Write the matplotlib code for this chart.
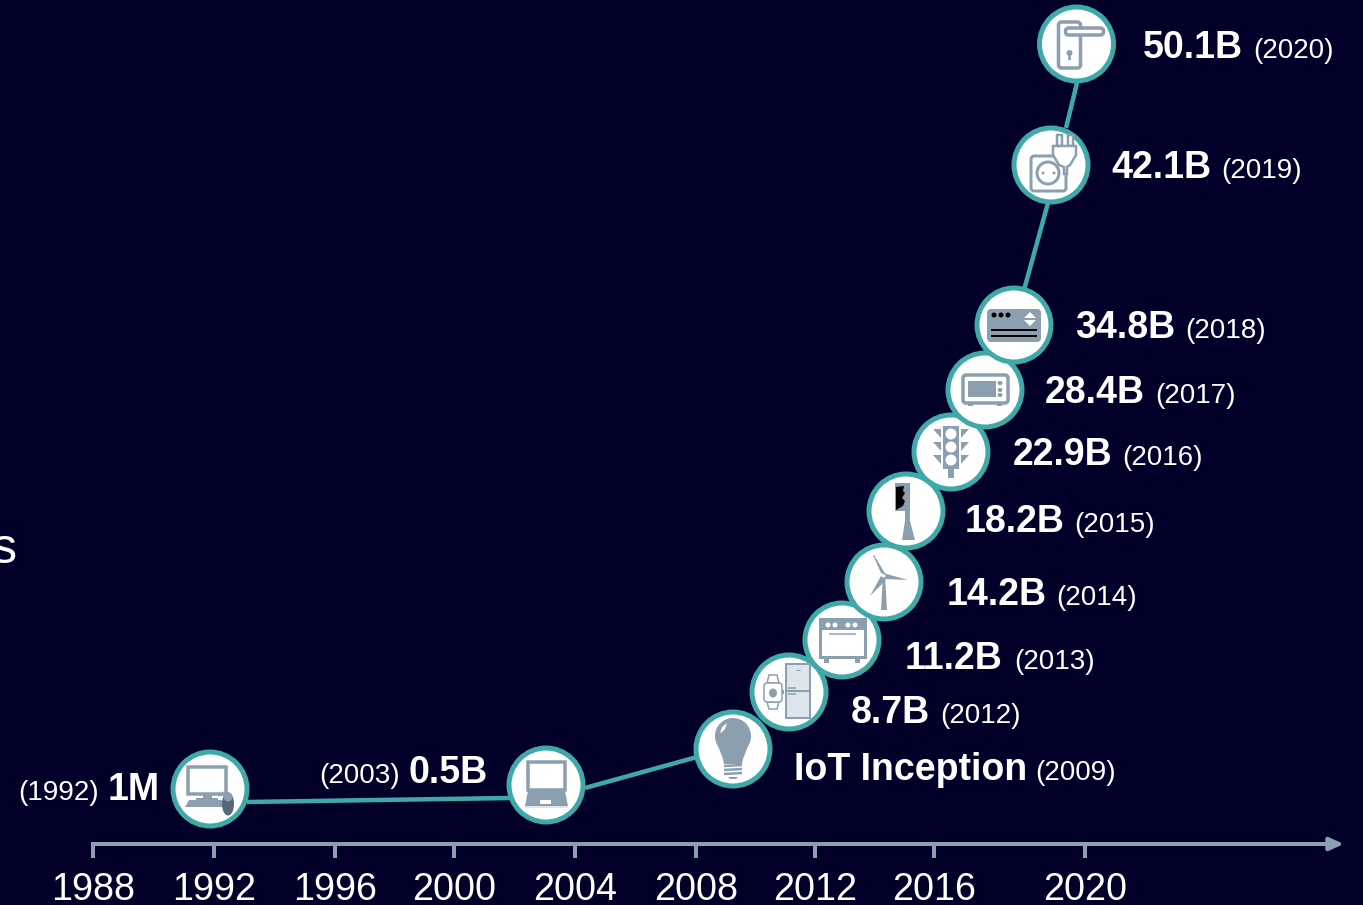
import numpy as np
import matplotlib
matplotlib.use("Agg")
import matplotlib.pyplot as plt
from matplotlib.patches import Circle, Ellipse, Polygon, Rectangle, FancyBboxPatch

plt.rcParams['font.family'] = ['Liberation Sans', 'DejaVu Sans']

BG = '#020029'
TEAL = '#3fa9a8'
GREY = '#8b9fae'
DARK = '#56697a'
PALE = '#dde5ec'

years = ['1992', '2003', '2009', '2012', '2013', '2014', '2015', '2016', '2017', '2018', '2019', '2020']
values = ['1M', '0.5B', 'IoT Inception', '8.7B', '11.2B', '14.2B', '18.2B', '22.9B', '28.4B', '34.8B', '42.1B', '50.1B']
node_x = [210, 546, 733, 789, 842, 884, 906, 951, 985, 1014, 1051, 1076.5]
node_y = [789, 785, 749, 692, 640, 582, 511, 452, 390, 325, 165, 44]
value_x = [108, 408, 794, 851, 905, 947, 965, 1013, 1045, 1075, 1111, 1143]
year_x = [18, 319, 1035, 940, 1014, 1056, 1074, 1122, 1155, 1185, 1221, 1253]
baseline = [800, 783, 780, 723, 669, 605, 532, 465, 403, 338, 178, 58]

# connector pieces between the circles
link_x = [[247, 510], [585, 697], [1024, 1048], [1066, 1077]]
link_y = [[802, 798], [788, 757], [290, 203], [128, 83]]

tick_labels = ['1988', '1992', '1996', '2000', '2004', '2008', '2012', '2016', '2020']
tick_x = [93, 214, 335, 454, 575, 696, 815, 934, 1085]

fig = plt.figure(figsize=(13.63, 9.05), dpi=100, facecolor=BG)
ax = fig.add_axes([0, 0, 1, 1])
ax.set_xlim(0, 1363)
ax.set_ylim(905, 0)
ax.axis('off')


def px(w):
    return w * 0.72


class Icon:
    def __init__(self, cx, cy, z):
        self.cx, self.cy, self.z = cx, cy, z

    def rect(self, x0, y0, x1, y1, fc=GREY, ec='none', lw=0, round_=0):
        if round_:
            p = FancyBboxPatch((self.cx + x0, self.cy + y0), x1 - x0, y1 - y0,
                               boxstyle='round,pad=0,rounding_size=%g' % round_,
                               fc=fc, ec=ec, lw=px(lw), zorder=self.z)
        else:
            p = Rectangle((self.cx + x0, self.cy + y0), x1 - x0, y1 - y0,
                          fc=fc, ec=ec, lw=px(lw), zorder=self.z)
        ax.add_patch(p)

    def circ(self, x, y, r, fc=GREY, ec='none', lw=0):
        ax.add_patch(Circle((self.cx + x, self.cy + y), r, fc=fc, ec=ec, lw=px(lw), zorder=self.z))

    def oval(self, x, y, w, h, fc=GREY):
        ax.add_patch(Ellipse((self.cx + x, self.cy + y), w, h, fc=fc, ec='none', zorder=self.z))

    def poly(self, pts, fc=GREY, ec='none', lw=0):
        pts = [(self.cx + a, self.cy + b) for a, b in pts]
        ax.add_patch(Polygon(pts, closed=True, fc=fc, ec=ec, lw=px(lw), zorder=self.z))

    def seg(self, x0, y0, x1, y1, c=GREY, lw=2):
        ax.plot([self.cx + x0, self.cx + x1], [self.cy + y0, self.cy + y1], color=c,
                lw=px(lw), zorder=self.z, solid_capstyle='butt')


def computer(i):
    i.rect(-22, -22, 16, 5, fc='white', ec=GREY, lw=3.5)
    i.rect(-7, 5, 2, 10)
    i.rect(-14, 9, 8, 11)
    i.poly([(-21, 11), (12, 11), (14, 18), (-25, 18)])
    i.seg(8, 7, 17, 5, c=GREY, lw=1)
    i.seg(12, 6, 12, 2, c=GREY, lw=1)
    i.oval(18, 15, 12, 23, fc=DARK)
    i.oval(18, 8, 9, 9, fc=GREY)


def laptop(i):
    i.rect(-18, -23, 19, 5, fc='white', ec=GREY, lw=3.5)
    i.poly([(-18, 6), (19, 6), (22, 21), (-21, 21)])
    i.rect(-6, 15, 5, 19, fc='white')
    i.rect(-21, 21, 22, 23, fc=PALE)


def bulb(i):
    i.circ(0, -13, 18)
    i.poly([(-17, -8), (17, -8), (10, 10), (9, 15), (-9, 15), (-10, 10)])
    for yy in [17, 21, 25]:
        i.seg(-9, yy, 9, yy - 1, lw=2.5)
    i.poly([(-5, 28), (5, 28), (3, 30), (-3, 30)])
    i.poly([(-13, -16), (-11, -22), (-6, -26), (-8, -20), (-11, -17)], fc='white')


def watch_fridge(i):
    i.rect(-3, -28, 21, 26, fc=PALE, ec=GREY, lw=2)
    i.seg(-3, -1, 21, -1, lw=2)
    i.seg(-1, -4, 7, -4, lw=1.5)
    i.seg(-1, 2, 7, 2, lw=1.5)
    i.seg(7, -22, 11, -22, lw=1)
    i.poly([(-22, -9), (-20, -17), (-12, -17), (-10, -9)], fc='white', ec=GREY, lw=1.5)
    i.poly([(-22, 10), (-20, 17), (-12, 17), (-10, 10)], fc='white', ec=GREY, lw=1.5)
    i.rect(-25, -9, -7, 10, fc='white', ec=GREY, lw=1.5, round_=3)
    i.rect(-7, -2, -5, 2)
    i.oval(-16, 1, 8, 9)


def oven(i):
    i.rect(-22, -21, 23, 17, fc='white', ec=GREY, lw=3)
    i.rect(-23, -22, 23, -10)
    for xx in [-14, -7, 6, 13]:
        i.circ(xx, -15, 2.5, fc='white')
    i.seg(-13, -6, 14, -6, lw=1.5)
    i.rect(-18, 19, -13, 23)
    i.rect(13, 19, 18, 23)


def turbine(i):
    i.poly([(-1, -6), (1, -6), (3, 28), (-3, 28)])
    i.poly([(-3, -9), (2, -7), (-10, -27), (-11, -27)])
    i.poly([(-1, -9), (1, -3), (24, -2)])
    i.poly([(-3, -6), (2, -2), (-14, 14)])
    i.circ(0, -6, 1.5, fc='white')


def toothbrush(i):
    i.rect(-11, -28, 4, 0)
    i.poly([(-10, -24), (-2, -25), (-3, -20), (-1, -18), (-4, -13), (-1, -10), (-3, -5), (-10, -1)], fc='black')
    i.poly([(-1, 0), (4, 0), (4, 10), (9, 29), (-4, 29), (-1, 10)])


def traffic(i):
    i.rect(-8, -26, 8, 17)
    i.rect(-3, 17, 3, 26)
    for yy in [-18, -5, 8]:
        i.circ(0, yy, 5.5, fc='white')
        i.poly([(-18, yy - 5), (-10, yy - 5), (-10, yy + 4)])
        i.poly([(18, yy - 5), (10, yy - 5), (10, yy + 4)])


def microwave(i):
    i.rect(-22, -15, 23, 13, fc='white', ec=GREY, lw=3.5, round_=3)
    i.rect(-17, -9, 11, 7)
    for yy in [-7, 0, 5]:
        i.oval(15, yy, 5, 4)
    i.rect(-17, 13, -12, 16)
    i.rect(12, 13, 17, 16)


def card(i):
    i.rect(-27, -16, 27, 17, round_=4)
    for xx in [-20, -13, -6]:
        i.circ(xx, -10, 2.5, fc='black')
    i.poly([(10, -7), (22, -7), (16, -13)], fc='white')
    i.poly([(10, -5), (22, -5), (16, 1)], fc='white')
    i.seg(-23, 5, 23, 5, c='black', lw=2)
    i.seg(-23, 11, 23, 11, c='black', lw=2)


def plug(i):
    i.rect(-20, -9, 15, 26, fc='white', ec=GREY, lw=3, round_=3)
    i.circ(-3, 8, 11, fc='white', ec=GREY, lw=3)
    i.circ(-8, 8, 1.5)
    i.circ(3, 8, 1.5)
    for xx in [8, 19]:
        i.rect(xx - 2.5, -30, xx + 2.5, -19, fc='white', ec=GREY, lw=2.5)
    i.poly([(2, -19), (25, -19), (25, -10), (19, 0), (16, 2), (16, 9), (13, 9), (13, 2), (8, 0), (2, -10)],
           fc='white', ec=GREY, lw=2.5)


def door(i):
    i.rect(-18, -22, 4, 24, fc='white', ec=GREY, lw=3.5, round_=3)
    i.rect(-11, -16, 27, -9, fc='white', ec=GREY, lw=3.5, round_=3)
    i.circ(-7, 9, 3)
    i.poly([(-8, 9), (-6, 9), (-5.5, 16), (-8.5, 16)])


icons = [computer, laptop, bulb, watch_fridge, oven, turbine, toothbrush, traffic, microwave, card, plug, door]

# x axis with arrow
ax.annotate('', xy=(1344, 844), xytext=(91, 844), zorder=2,
            arrowprops=dict(arrowstyle='-|>,head_length=0.85,head_width=0.38', color=GREY, lw=px(4),
                            shrinkA=0, shrinkB=0, capstyle='butt'))
ax.vlines(tick_x, 844, 858, color=GREY, lw=px(4), zorder=2)
for xx, lab in zip(tick_x, tick_labels):
    ax.text(xx, 900, lab, color='white', fontsize=27.2, ha='center', va='baseline')

for xs, ys in zip(link_x, link_y):
    ax.plot(xs, ys, color=TEAL, lw=px(4.5), zorder=3, solid_capstyle='butt')

for k in range(len(years)):
    z = 5 + k * 2
    ax.add_patch(Circle((node_x[k], node_y[k]), 37, fc='white', ec=TEAL, lw=px(5), zorder=z))
    icons[k](Icon(node_x[k], node_y[k], z + 1))
    ax.text(value_x[k], baseline[k], values[k], color='white', fontsize=27, fontweight='bold',
            ha='left', va='baseline')
    ax.text(year_x[k], baseline[k], '(' + years[k] + ')', color='white', fontsize=20,
            ha='left', va='baseline')

# cut off letter at the left edge of the source slide
ax.text(-8, 563, 's', color='white', fontsize=36, ha='left', va='baseline', clip_on=True)

fig.savefig('out.png', dpi=100, facecolor=BG)
